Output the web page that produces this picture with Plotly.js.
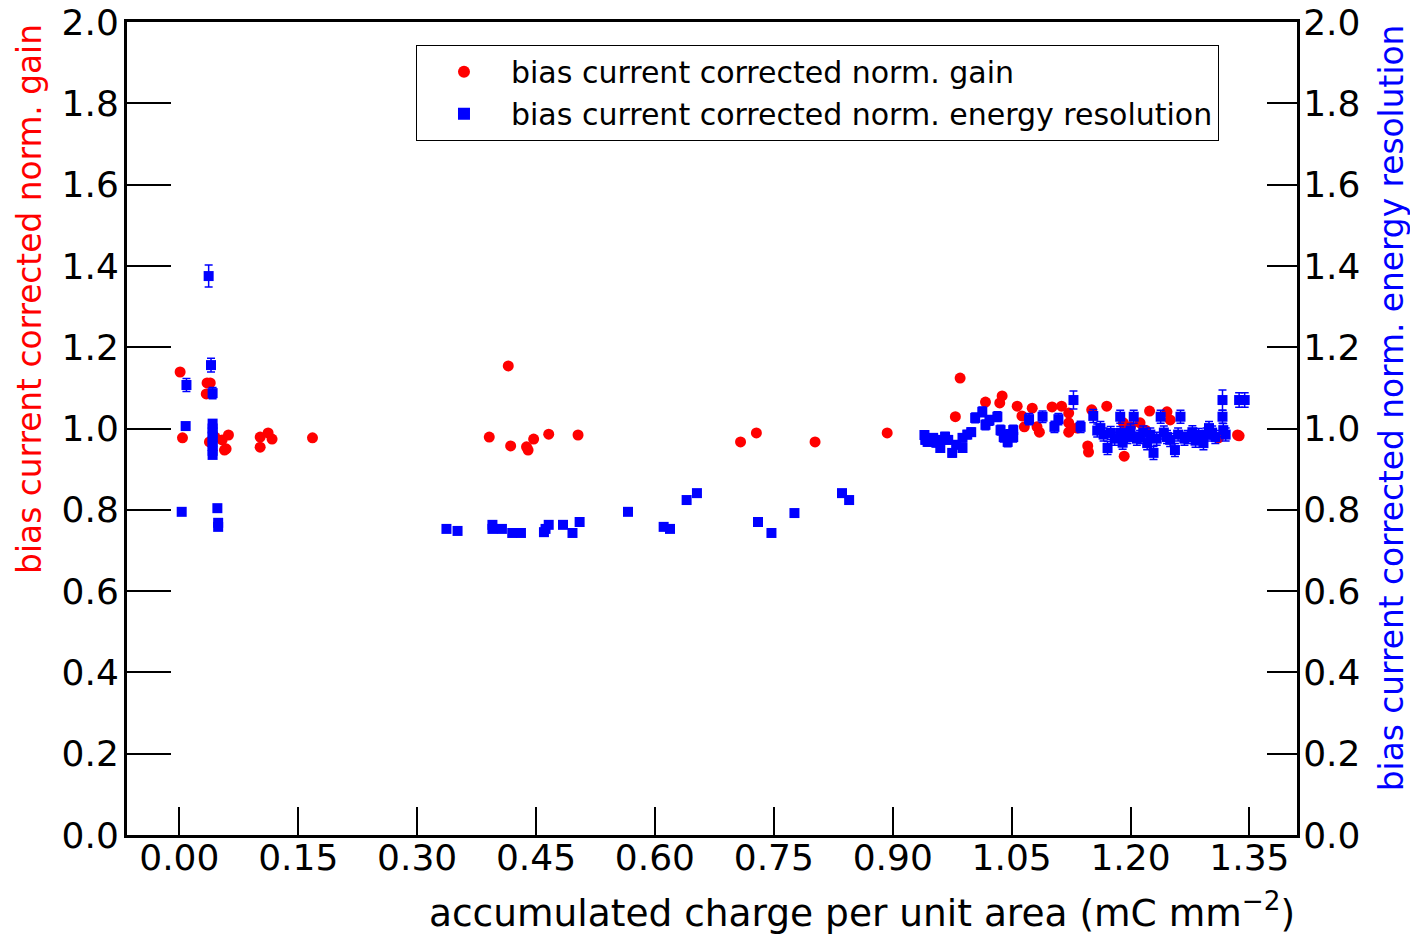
<!DOCTYPE html>
<html>
<head>
<meta charset="utf-8">
<script src="https://cdn.plot.ly/plotly-3.0.1.min.js"></script>
<style>html,body{margin:0;padding:0;background:#fff;}#chart{width:1410px;height:935px;}</style>
</head>
<body>
<div id="chart"></div>
<script>
// Normalized gain (red circles)
const gainX = [0.001,0.004,0.034,0.035,0.039,0.038,0.045,0.054,0.057,0.059,0.062,0.102,0.102,0.112,0.117,0.168,
  0.391,0.415,0.418,0.438,0.440,0.447,0.466,0.503,
  0.708,0.728,0.802,0.893,
  0.979,0.985,1.017,1.035,1.038,1.057,1.063,1.066,1.076,1.082,1.085,1.101,1.113,1.122,1.122,1.122,1.126,1.133,1.146,1.147,1.151,1.170,1.191,1.192,1.200,1.212,1.219,1.224,1.246,1.250,1.311,1.335,1.337];
const gainY = [1.139,0.977,1.085,1.112,1.112,0.967,0.979,0.972,0.947,0.950,0.984,0.979,0.954,0.989,0.974,0.977,
  0.979,1.154,0.957,0.955,0.947,0.974,0.986,0.984,
  0.967,0.989,0.967,0.989,
  1.029,1.124,1.065,1.063,1.080,1.055,1.031,1.004,1.050,1.004,0.991,1.053,1.055,1.038,1.014,0.991,1.001,1.001,0.957,0.942,1.046,1.055,1.014,0.932,1.004,1.014,0.996,1.043,1.041,1.021,0.977,0.984,0.982];

// Normalized energy resolution (blue squares)
const resX = [0.003,0.008,0.009,0.037,0.040,0.042,0.042,0.042,0.042,0.042,0.042,0.042,0.042,0.042,0.048,0.049,0.049,
  0.337,0.351,0.395,0.395,0.407,0.420,0.431,0.460,0.462,0.466,0.484,0.496,0.505,
  0.566,0.611,0.619,0.640,0.653,0.730,0.747,0.776,0.836,0.845,
  0.940,0.941,0.944,0.951,0.955,0.960,0.960,0.966,0.970,0.975,0.980,0.988,0.988,0.994,0.999,1.004,1.013,1.017,1.022,1.032,1.036,1.040,1.045,1.047,1.052,1.052,1.072,1.089,1.104,1.109,1.128,1.137,
  1.153,1.158,1.162,1.166,1.171,1.175,1.180,1.187,1.187,1.190,1.194,1.196,1.200,1.204,1.208,1.212,1.216,1.221,1.225,1.229,1.233,1.238,1.242,1.246,1.250,1.256,1.260,1.263,1.268,1.272,1.278,1.282,1.286,1.292,1.296,1.299,1.303,1.307,1.316,1.316,1.317,1.320,1.337,1.344];
const resY = [0.795,1.006,1.107,1.375,1.156,1.087,1.012,1.000,0.990,0.980,0.968,0.957,0.945,0.935,0.804,0.768,0.758,
  0.753,0.748,0.763,0.753,0.753,0.743,0.743,0.745,0.753,0.763,0.763,0.743,0.770,
  0.795,0.758,0.753,0.824,0.841,0.770,0.743,0.792,0.841,0.824,
  0.984,0.972,0.967,0.977,0.965,0.972,0.952,0.980,0.972,0.940,0.960,0.952,0.977,0.985,0.991,1.026,1.041,1.009,1.020,1.029,0.996,0.979,0.967,0.985,0.996,0.979,1.023,1.029,1.004,1.023,1.070,1.004,
  1.031,0.995,1.001,0.985,0.952,0.989,0.975,1.029,0.989,0.965,0.984,0.979,0.995,1.029,0.975,0.979,0.990,0.964,0.985,0.940,0.975,1.029,0.990,0.979,0.972,0.947,0.985,1.029,0.975,0.979,0.991,0.970,0.984,0.964,0.985,1.001,0.990,0.979,1.070,1.029,0.996,0.985,1.070,1.070];
const resErr = [0.004,0.008,0.016,0.027,0.017,0.014,0.008,0.008,0.008,0.008,0.008,0.008,0.008,0.008,0.006,0.006,0.006,
  0.004,0.004,0.004,0.004,0.004,0.004,0.004,0.004,0.004,0.004,0.004,0.004,0.004,
  0.004,0.004,0.004,0.004,0.004,0.004,0.004,0.004,0.004,0.004,
  0.010,0.010,0.010,0.010,0.010,0.010,0.010,0.010,0.010,0.010,0.010,0.010,0.010,0.010,0.010,0.012,0.012,0.012,0.012,0.012,0.012,0.012,0.012,0.012,0.012,0.012,0.014,0.014,0.014,0.014,0.022,0.014,
  0.016,0.016,0.016,0.016,0.016,0.016,0.016,0.016,0.016,0.016,0.016,0.016,0.016,0.016,0.016,0.016,0.016,0.016,0.016,0.016,0.016,0.016,0.016,0.016,0.016,0.016,0.016,0.016,0.016,0.016,0.016,0.016,0.016,0.016,0.016,0.016,0.016,0.016,0.025,0.016,0.016,0.016,0.018,0.018];

const xTicks = [0, 0.15, 0.30, 0.45, 0.60, 0.75, 0.90, 1.05, 1.20, 1.35];
const yTicks = [0, 0.2, 0.4, 0.6, 0.8, 1.0, 1.2, 1.4, 1.6, 1.8, 2.0];

const gainName = 'bias current corrected norm. gain';
const resName = 'bias current corrected norm. energy resolution';
const xTitle = 'accumulated charge per unit area (mC mm<sup>−2</sup>)';

const FONT = 'DejaVu Sans, sans-serif';
const TICKSIZE = 36;

const traces = [
  {
    x: gainX, y: gainY, type: 'scatter', mode: 'markers', name: gainName,
    marker: {color: 'red', symbol: 'circle', size: 11},
    xaxis: 'x', yaxis: 'y'
  },
  {
    x: resX, y: resY, type: 'scatter', mode: 'markers', name: resName,
    marker: {color: 'blue', symbol: 'square', size: 10},
    error_y: {type: 'data', array: resErr, visible: true, color: 'blue', thickness: 1.5, width: 4},
    xaxis: 'x', yaxis: 'y2'
  }
];

const layout = {
  width: 1410, height: 935,
  margin: {l: 127, r: 113, t: 22, b: 100},
  paper_bgcolor: 'white', plot_bgcolor: 'white',
  font: {family: FONT, color: 'black', size: TICKSIZE},
  showlegend: true,
  legend: {
    x: 0.247, y: 0.972, xanchor: 'left', yanchor: 'top',
    bordercolor: 'black', borderwidth: 1, bgcolor: 'white',
    font: {family: FONT, size: 30, color: 'black'},
    itemwidth: 84, itemsizing: 'constant'
  },
  xaxis: {
    range: [-0.066, 1.41],
    tickvals: xTicks, tickformat: '.2f',
    ticks: 'inside', ticklen: 28, tickwidth: 2, tickcolor: 'black',
    showline: true, linewidth: 3, linecolor: 'black', mirror: true,
    showgrid: false, zeroline: false,
    ticklabelstandoff: -11,
    tickfont: {size: TICKSIZE, family: FONT}
  },
  yaxis: {
    range: [0, 2], tickvals: yTicks, tickformat: '.1f',
    ticks: 'inside', ticklen: 44, tickwidth: 2, tickcolor: 'black',
    showline: true, linewidth: 3, linecolor: 'black',
    showgrid: false, zeroline: false,
    ticklabelstandoff: -2,
    tickfont: {size: TICKSIZE, family: FONT}
  },
  yaxis2: {
    range: [0, 2], tickvals: yTicks, tickformat: '.1f',
    overlaying: 'y', side: 'right',
    ticks: 'inside', ticklen: 30, tickwidth: 2, tickcolor: 'black',
    showline: true, linewidth: 3, linecolor: 'black',
    showgrid: false, zeroline: false,
    ticklabelstandoff: -4,
    tickfont: {size: TICKSIZE, family: FONT}
  },
  annotations: [
    {text: xTitle, xref: 'paper', yref: 'paper', x: 1, y: -0.093, xanchor: 'right', yanchor: 'middle',
     showarrow: false, font: {size: 37.5, family: FONT, color: 'black'}},
    {text: gainName, xref: 'paper', yref: 'paper', x: -0.083, y: 1, xanchor: 'center', yanchor: 'top',
     textangle: -90, showarrow: false, font: {size: 32.8, family: FONT, color: 'red'}},
    {text: resName, xref: 'paper', yref: 'paper', x: 1.081, y: 1, xanchor: 'center', yanchor: 'top',
     textangle: -90, showarrow: false, font: {size: 32.8, family: FONT, color: 'blue'}}
  ]
};

Plotly.newPlot('chart', traces, layout, {displayModeBar: false, staticPlot: true});
</script>
</body>
</html>
